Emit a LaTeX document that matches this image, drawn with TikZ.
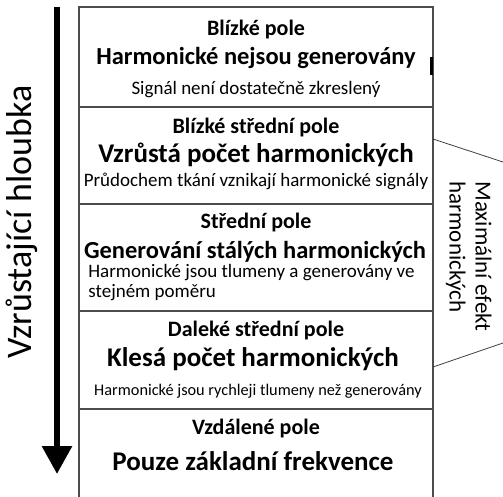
\documentclass[tikz,border=0pt]{standalone}
\usepackage{fontspec}
\setmainfont{Carlito}
\usetikzlibrary{arrows.meta, positioning}

\begin{document}
\begin{tikzpicture}[
  x=1pt, y=-1pt,
  layer/.style={draw=black!70, line width=1.1pt},
  zone/.style={anchor=base, inner sep=0pt, font=\fontsize{22}{26}\selectfont\bfseries},
  effect/.style={anchor=base, inner sep=0pt, font=\fontsize{27}{31}\selectfont\bfseries},
  note/.style={anchor=base, inner sep=0pt, font=\fontsize{19}{22}\selectfont},
  side/.style={inner sep=0pt, font=\fontsize{23}{26}\selectfont},
  >={Triangle[length=28pt, width=29pt]},
  thick
]
  \useasboundingbox (0,0) rectangle (503,497);

  % layers
  \draw[layer] (79,497) |- (433,7) -- (433,497);
  \draw[layer] (79,107) -- (433,107);
  \draw[layer] (79,204) -- (433,204);
  \draw[layer] (79,311) -- (433,311);
  \draw[layer] (79,409) -- (433,409);
  \draw[line width=3pt] (431,57) -- (431,75);

  \node[zone] (z1) at (256,36) {Blízké pole};
  \node[effect, font=\fontsize{24.5}{28}\selectfont\bfseries] (e1) at (256,65) {Harmonické nejsou generovány};
  \node[note] (n1) at (256,95) {Signál není dostatečně zkreslený};

  \node[zone] (z2) at (256,134) {Blízké střední pole};
  \node[effect] (e2) at (256,163) {Vzrůstá počet harmonických};
  \node[note] (n2) at (256,187) {Průdochem tkání vznikají harmonické signály};

  \node[zone] (z3) at (256,228) {Střední pole};
  \node[effect, font=\fontsize{24.5}{28}\selectfont\bfseries] (e3) at (255,258) {Generování stálých harmonických};
  \node[note, anchor=base west] (n3) at (88,277) {Harmonické jsou tlumeny a generovány ve};
  \node[note, anchor=base west] (n3b) at (88,297) {stejném poměru};

  \node[zone] (z4) at (256,336) {Daleké střední pole};
  \node[effect] (e4) at (253,366) {Klesá počet harmonických};
  \node[note, font=\fontsize{16.3}{19}\selectfont] (n4) at (258,395) {Harmonické jsou rychleji tlumeny než generovány};

  \node[zone] (z5) at (256,434) {Vzdálené pole};
  \node[effect] (e5) at (253,470) {Pouze základní frekvence};

  % depth arrow
  \coordinate (dtop) at (57,7);
  \coordinate (dend) at (57,474);
  \draw[->, line width=6pt] (dtop) -- (dend);
  \node[rotate=90, inner sep=0pt, font=\fontsize{36}{42}\selectfont] (depth) at (22,222) {Vzrůstající hloubka};

  % maximum effect
  \coordinate (mu1) at (433,139);
  \coordinate (mu2) at (503,162);
  \coordinate (ml1) at (433,367);
  \coordinate (ml2) at (503,343);
  \draw[black!75, line width=0.8pt] (mu1) -- (mu2);
  \draw[black!75, line width=0.8pt] (ml1) -- (ml2);
  \node[side, rotate=-90, anchor=north west, align=left] (maxeff) at (492,181) {Maximální efekt\\harmonických};
\end{tikzpicture}
\end{document}
